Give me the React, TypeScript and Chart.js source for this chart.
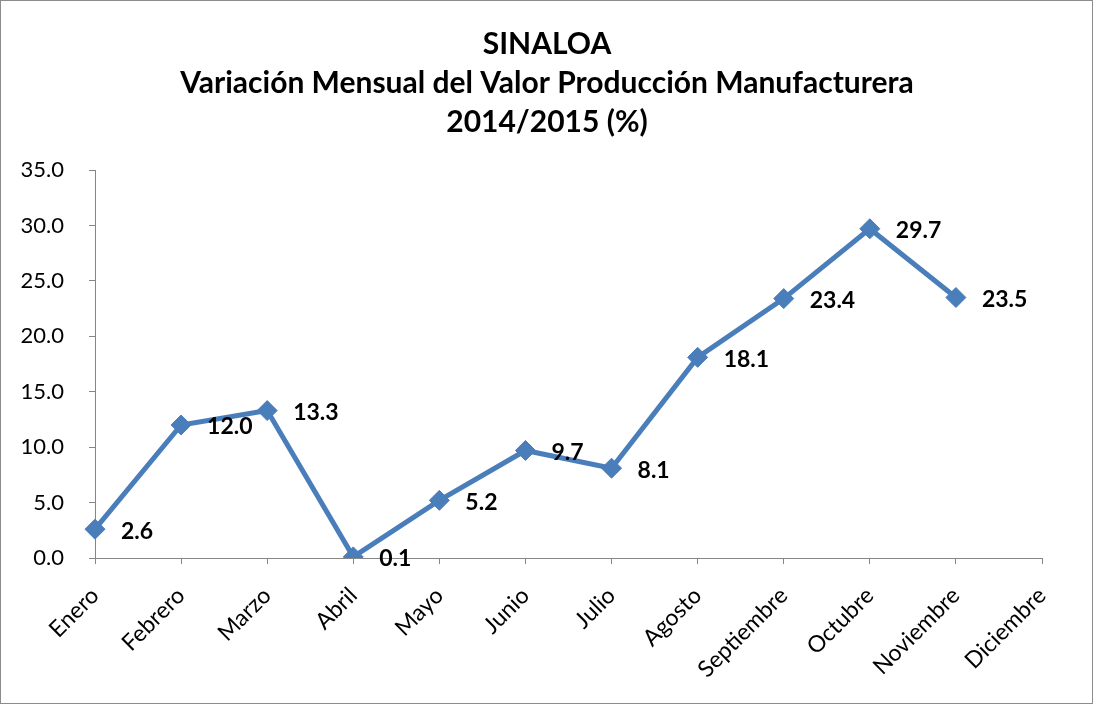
import React, { useEffect, useRef } from "react";
import { Chart, registerables } from "chart.js";

Chart.register(...registerables);

const titleLines = [
  "SINALOA",
  "Variación Mensual del Valor Producción Manufacturera",
  "2014/2015 (%)",
];
const categories = [
  "Enero",
  "Febrero",
  "Marzo",
  "Abril",
  "Mayo",
  "Junio",
  "Julio",
  "Agosto",
  "Septiembre",
  "Octubre",
  "Noviembre",
  "Diciembre",
];
const values: (number | null)[] = [2.6, 12.0, 13.3, 0.1, 5.2, 9.7, 8.1, 18.1, 23.4, 29.7, 23.5, null];
const yMin = 0;
const yMax = 35;
const yStep = 5;

const FONT = "Lato, 'Noto Sans', sans-serif";
const LINE_COLOR = "#4A7EBB";
const AXIS_COLOR = "#868686";

const framePlugin = {
  id: "frame",
  beforeDraw(chart: any) {
    const { ctx, width, height } = chart;
    ctx.save();
    ctx.fillStyle = "#ffffff";
    ctx.fillRect(0, 0, width, height);
    ctx.strokeStyle = "#8c8c8c";
    ctx.lineWidth = 1;
    ctx.strokeRect(0.5, 0.5, width - 2, height - 3);
    ctx.restore();
  },
};

const titlePlugin = {
  id: "centeredTitle",
  afterDraw(chart: any) {
    const { ctx, width } = chart;
    ctx.save();
    ctx.font = `bold 30px ${FONT}`;
    ctx.fillStyle = "#000000";
    ctx.textAlign = "center";
    ctx.textBaseline = "middle";
    titleLines.forEach((line, i) => {
      ctx.fillText(line, width / 2, 44 + i * 39);
    });
    ctx.restore();
  },
};

const labelPlugin = {
  id: "pointLabels",
  afterDatasetsDraw(chart: any) {
    const { ctx } = chart;
    const meta = chart.getDatasetMeta(0);
    const data = chart.data.datasets[0].data;
    ctx.save();
    ctx.font = `bold 23px ${FONT}`;
    ctx.fillStyle = "#000000";
    ctx.textAlign = "left";
    ctx.textBaseline = "middle";
    meta.data.forEach((pt: any, i: number) => {
      const v = data[i];
      if (v === null || v === undefined) return;
      ctx.fillText(Number(v).toFixed(1), pt.x + 26, pt.y + 2);
    });
    ctx.restore();
  },
};

export default function App() {
  const canvasRef = useRef<HTMLCanvasElement | null>(null);

  useEffect(() => {
    if (!canvasRef.current) return;
    const chart = new Chart(canvasRef.current, {
      type: "line",
      data: {
        labels: categories,
        datasets: [
          {
            label: "Variación",
            data: values,
            borderColor: LINE_COLOR,
            backgroundColor: LINE_COLOR,
            borderWidth: 5,
            pointStyle: "rectRot",
            pointRadius: 10,
            pointHoverRadius: 10,
            pointBackgroundColor: LINE_COLOR,
            pointBorderColor: LINE_COLOR,
            pointBorderWidth: 1,
            tension: 0,
            spanGaps: false,
          },
        ],
      },
      options: {
        responsive: false,
        animation: false,
        layout: { padding: { left: 0, right: 52, top: 170, bottom: 0 } },
        plugins: {
          legend: { display: false },
          tooltip: { enabled: false },
          title: { display: false },
        },
        scales: {
          x: {
            type: "category",
            offset: false,
            afterFit(scale: any) {
              scale.height = 148;
            },
            grid: {
              display: true,
              drawOnChartArea: false,
              drawTicks: true,
              tickLength: 6,
              color: AXIS_COLOR,
            },
            border: { display: true, color: AXIS_COLOR, width: 1 },
            ticks: {
              color: "#000000",
              font: { family: FONT, size: 23 },
              maxRotation: 45,
              minRotation: 45,
              autoSkip: false,
              padding: 18,
            },
          },
          y: {
            min: yMin,
            max: yMax,
            afterFit(scale: any) {
              scale.width = 95;
            },
            grid: {
              display: true,
              drawOnChartArea: false,
              drawTicks: true,
              tickLength: 6,
              color: AXIS_COLOR,
            },
            border: { display: true, color: AXIS_COLOR, width: 1 },
            ticks: {
              stepSize: yStep,
              color: "#000000",
              font: { family: FONT, size: 22 },
              padding: 25,
              callback: (v: any) => Number(v).toFixed(1),
            },
          },
        },
      },
      plugins: [framePlugin, labelPlugin, titlePlugin],
    });
    return () => chart.destroy();
  }, []);

  return (
    <div style={{ position: "absolute", left: 0, top: 0, width: 1094, height: 706 }}>
      <canvas ref={canvasRef} width={1094} height={706} />
    </div>
  );
}
